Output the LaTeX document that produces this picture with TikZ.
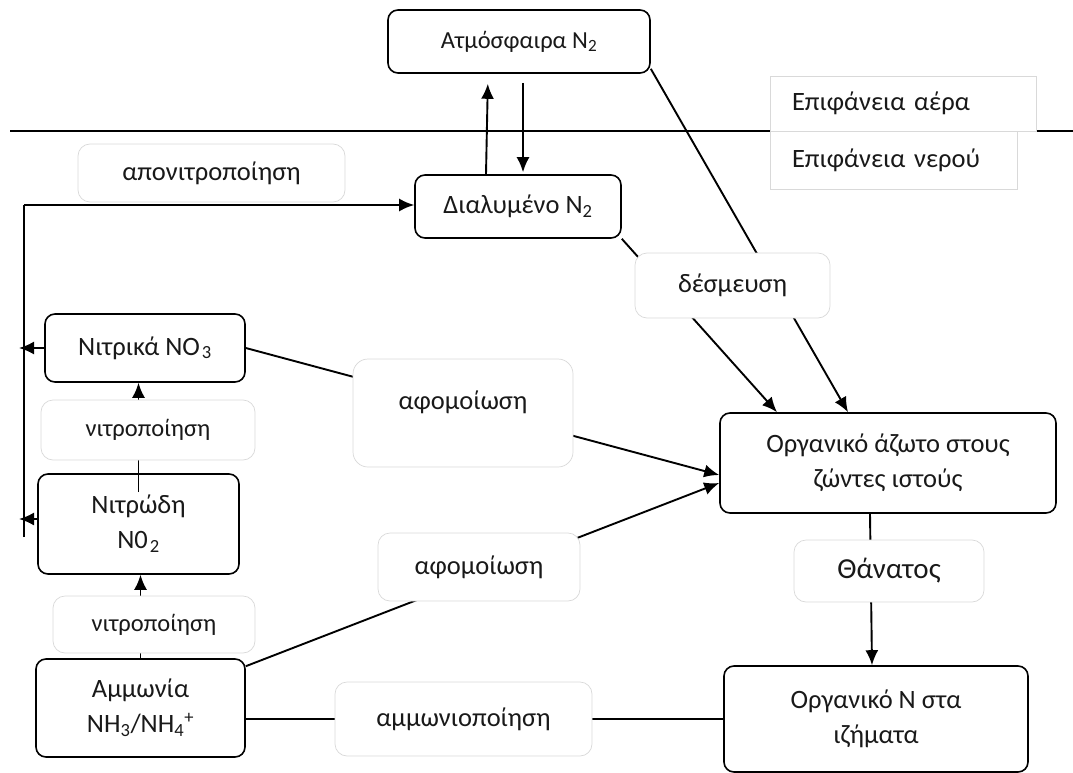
\documentclass[tikz,border=0pt]{standalone}
\usepackage{fontspec}
\setmainfont{Carlito}
\usetikzlibrary{arrows.meta}

\begin{document}
\begin{tikzpicture}[x=1pt,y=-1pt,
    box/.style={draw=black,line width=1.6pt,rounded corners=10pt,fill=white,align=center,inner sep=0pt},
    lbl/.style={draw=black!15,line width=0.7pt,rounded corners=12pt,fill=white,align=center,inner sep=0pt},
    surf/.style={draw=black!15,line width=0.7pt,fill=white,align=left,inner xsep=22pt,inner ysep=0pt},
    arr/.style={line width=1.9pt,-{Latex[length=15pt,width=13pt]}},
    ln/.style={line width=1.9pt},
    txtS/.style={font=\fontsize{24.5}{35}\selectfont},
    txtL/.style={font=\fontsize{29}{35}\selectfont},
    font=\fontsize{26.5}{35}\selectfont,
    text=black!90]
    \useasboundingbox (0,0) rectangle (1073,773);
    % air / water
    \coordinate (ruleL) at (10,131);
    \coordinate (ruleR) at (1073,131);
    \draw[ln] (ruleL) -- (ruleR);
    \node[surf,text width=222pt,minimum height=55pt] (air) at (903,103.5) {Επιφάνεια αέρα};
    \node[surf,text width=203pt,minimum height=58pt] (water) at (893.5,160) {Επιφάνεια νερού};
    % pools
    \node[box,txtS,minimum width=262pt,minimum height=63pt] (atm) at (519,41.5) {Ατμόσφαιρα N\textsubscript{2}};
    \node[box,minimum width=206pt,minimum height=63pt] (dial) at (518,206.5) {Διαλυμένο N\textsubscript{2}};
    \node[box,minimum width=200pt,minimum height=68pt] (nitr3) at (145,348) {Νιτρικά NO\kern2pt\textsubscript{3}};
    \node[box,minimum width=201pt,minimum height=100pt] (nitr2) at (138.5,524) {Νιτρώδη\\N0\kern2pt\textsubscript{2}};
    \node[box,minimum width=209pt,minimum height=98pt] (amm) at (140.5,708) {Αμμωνία\\NH\textsubscript{3}/NH\textsubscript{4}\textsuperscript{+}};
    \node[box,minimum width=336pt,minimum height=100pt] (org) at (888,463) {Οργανικό άζωτο στους\\ζώντες ιστούς};
    \node[box,minimum width=304pt,minimum height=106pt] (orgN) at (876,719) {Οργανικό N στα\\ιζήματα};
    % fluxes
    \draw[arr,shorten >=10pt] ([xshift=-32pt]dial.north) -- ([xshift=-31pt]atm.south);
    \draw[arr,shorten <=9pt,shorten >=2pt] ([xshift=4pt]atm.south) -- ([xshift=5pt]dial.north);
    \coordinate (loopT) at (24,205);
    \coordinate (loopB) at (24,537);
    \draw[ln] (loopB) -- (loopT);
    \draw[arr] (loopT) -- (loopT -| dial.west);
    \draw[arr] (nitr3.west) -- ([xshift=-5pt]loopT |- nitr3.west);
    \draw[arr] ([yshift=5pt]nitr2.west) -- ([xshift=-5pt,yshift=5pt]loopT |- nitr2.west);
    \draw[arr] ([yshift=-19pt]nitr2.north) -- (nitr2.north |- nitr3.south);
    \draw[arr] (amm.north) -- (amm.north |- nitr2.south);
    \draw[arr] (nitr3.east) -- ([yshift=-12pt]org.west);
    \draw[arr] ([yshift=-8pt]amm.north east) -- ([yshift=-20pt]org.west);
    \draw[arr] (dial.south east) -- ([xshift=-111pt]org.north);
    \draw[arr] ([yshift=5pt]atm.south east) -- ([xshift=-40pt]org.north);
    \draw[arr] ([xshift=-18pt]org.south) -- ([xshift=-4pt]orgN.north);
    \draw[ln] (amm.east |- orgN.west) -- (orgN.west);
    % processes
    \node[lbl,minimum width=267pt,minimum height=58pt] (denit) at (211.5,173) {απονιτροποίηση};
    \node[lbl,minimum width=195pt,minimum height=65pt] (fix) at (732.5,285.5) {δέσμευση};
    \node[lbl,txtS,minimum width=214pt,minimum height=60pt] (nitrifA) at (148,430) {νιτροποίηση};
    \node[lbl,txtS,minimum width=202pt,minimum height=57pt] (nitrifB) at (154,624.5) {νιτροποίηση};
    \node[lbl,rounded corners=15pt,text depth=26pt,minimum width=220pt,minimum height=108pt] (assimA) at (463,413) {αφομοίωση};
    \node[lbl,minimum width=202pt,minimum height=68pt] (assimB) at (479,567) {αφομοίωση};
    \node[lbl,txtL,minimum width=190pt,minimum height=62pt] (death) at (889,571) {Θάνατος};
    \node[lbl,minimum width=257pt,minimum height=74pt] (ammon) at (463.5,719) {αμμωνιοποίηση};
\end{tikzpicture}
\end{document}
